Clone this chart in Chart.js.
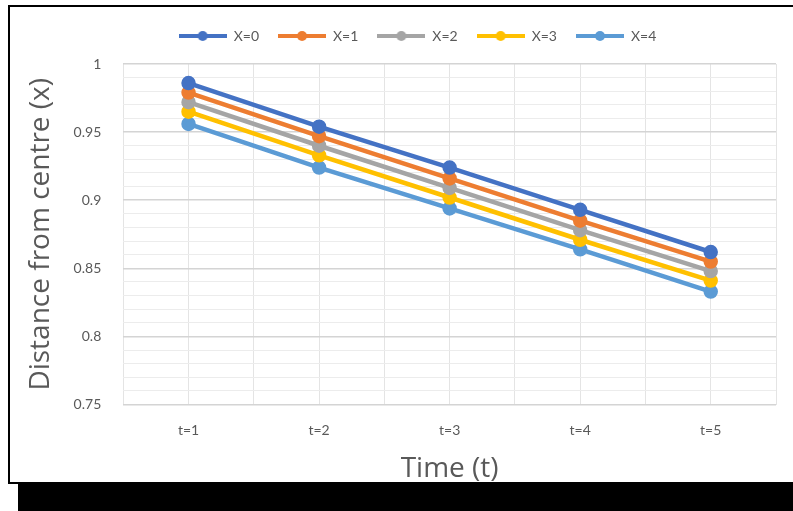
<!DOCTYPE html>
<html lang="en">
<head>
  <meta charset="UTF-8">
  <title>Distance from centre</title>
  <script src="https://cdn.jsdelivr.net/npm/chart.js@4.4.1/dist/chart.umd.min.js"></script>
  <style>
    html, body { margin: 0; padding: 0; background: #fff; overflow: hidden; }
    #frame {
      position: absolute; left: 8px; top: 5px; width: 820px; height: 475px;
      border: 2px solid #000; background: #fff;
      box-shadow: 10px 28px 0 #000;
    }
    #wrap { position: absolute; left: 0; top: 0; width: 793px; height: 511px; }
  </style>
</head>
<body>
  <div id="frame"></div>
  <div id="wrap"><canvas id="lineChart"></canvas></div>

  <script>
    // chart data
    const timeLabels = ['t=1', 't=2', 't=3', 't=4', 't=5'];
    const seriesNames = ['X=0', 'X=1', 'X=2', 'X=3', 'X=4'];
    const x0 = [0.986, 0.954, 0.924, 0.893, 0.862];
    const x1 = [0.979, 0.947, 0.916, 0.885, 0.855];
    const x2 = [0.972, 0.940, 0.909, 0.878, 0.848];
    const x3 = [0.965, 0.933, 0.902, 0.871, 0.841];
    const x4 = [0.956, 0.924, 0.894, 0.864, 0.833];
    const yTicks = [0.75, 0.8, 0.85, 0.9, 0.95, 1];

    const colors = ['#4472C4', '#ED7D31', '#A5A5A5', '#FFC000', '#5B9BD5'];
    const font = "Lato, 'Open Sans', sans-serif";
    const titleFont = "'Open Sans', Lato, sans-serif";
    const textColor = '#595959';

    // legend marker: line with a dot in the middle, like excel
    function legendMarker(color) {
      const c = document.createElement('canvas');
      c.width = 48; c.height = 12;
      const g = c.getContext('2d');
      g.strokeStyle = color;
      g.lineWidth = 4;
      g.beginPath(); g.moveTo(0, 6); g.lineTo(48, 6); g.stroke();
      g.fillStyle = color;
      g.beginPath(); g.arc(24, 6, 5, 0, Math.PI * 2); g.fill();
      return c;
    }

    // x is a linear axis so grid lines land on both the category centres and the gaps
    const allSeries = [x0, x1, x2, x3, x4];
    const datasets = allSeries.map((vals, i) => ({
      label: seriesNames[i],
      data: vals.map((v, k) => ({ x: k + 1, y: v })),
      borderColor: colors[i],
      backgroundColor: colors[i],
      borderWidth: 4.5,
      pointRadius: 5,
      pointHoverRadius: 5,
      pointStyle: 'circle',
      tension: 0
    }));

    const isMajor = v => yTicks.some(t => Math.abs(t - v) < 1e-6);

    // more room under the legend, and nudge it right like the excel one
    const legendTweak = {
      id: 'legendTweak',
      beforeInit(chart) {
        const fit = chart.legend.fit;
        chart.legend.fit = function () {
          fit.bind(chart.legend)();
          this.height += 11;
        };
      },
      afterLayout(chart) {
        chart.legend.left += 10;
        chart.legend.right += 10;
      }
    };

    new Chart(document.getElementById('lineChart'), {
      type: 'line',
      data: { datasets: datasets },
      plugins: [legendTweak],
      options: {
        responsive: true,
        maintainAspectRatio: false,
        animation: false,
        layout: { padding: { left: 24, right: 2, top: 10, bottom: 25 } },
        plugins: {
          tooltip: { enabled: false },
          legend: {
            position: 'top',
            labels: {
              color: textColor,
              font: { family: font, size: 14 },
              usePointStyle: true,
              pointStyleWidth: 48,
              boxHeight: 12,
              padding: 19,
              generateLabels: chart => chart.data.datasets.map((ds, i) => ({
                text: ds.label,
                pointStyle: legendMarker(colors[i]),
                fontColor: textColor,
                lineWidth: 0,
                strokeStyle: 'transparent',
                fillStyle: colors[i],
                datasetIndex: i
              }))
            }
          }
        },
        scales: {
          x: {
            type: 'linear',
            min: 0.5,
            max: timeLabels.length + 0.5,
            grid: { color: '#e4e4e4', drawTicks: false },
            border: { display: false },
            ticks: {
              stepSize: 0.5,
              autoSkip: false,
              maxRotation: 0,
              color: textColor,
              font: { family: font, size: 14 },
              padding: 17,
              callback: v => Number.isInteger(v) ? timeLabels[v - 1] : ''
            },
            title: {
              display: true, text: 'Time (t)', color: textColor,
              font: { family: titleFont, size: 28 }, padding: { top: -3, bottom: 0 }
            }
          },
          y: {
            min: 0.75,
            max: 1,
            grid: {
              drawTicks: false,
              color: ctx => isMajor(ctx.tick.value) ? '#d4d4d4' : '#ececec',
              lineWidth: ctx => isMajor(ctx.tick.value) ? 1.5 : 1
            },
            border: { display: false },
            ticks: {
              stepSize: 0.01,
              autoSkip: false,
              padding: 22,
              color: textColor,
              font: { family: font, size: 14 },
              callback: v => isMajor(v) ? String(Math.round(v * 100) / 100) : ''
            },
            title: {
              display: true, text: 'Distance from centre (x)', color: textColor,
              font: { family: titleFont, size: 28 }, padding: { top: 0, bottom: -6 }
            }
          }
        }
      }
    });
  </script>
</body>
</html>
